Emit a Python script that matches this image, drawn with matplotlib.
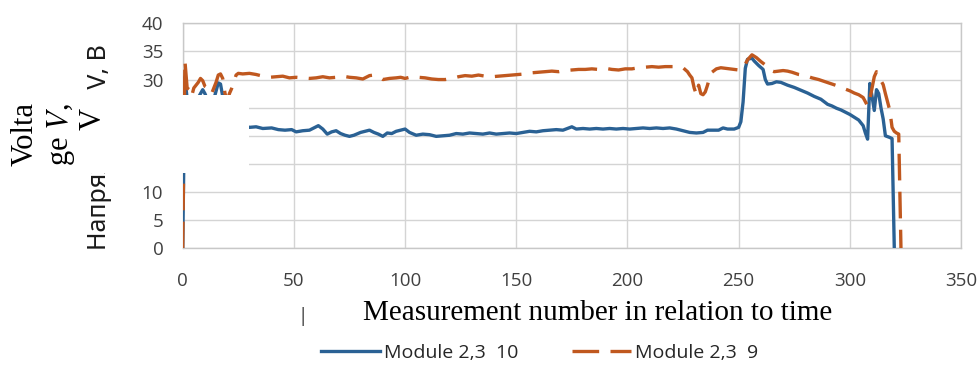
import matplotlib
matplotlib.use("Agg")
import matplotlib.pyplot as plt
from matplotlib.patches import Rectangle

plt.rcParams['mathtext.fontset'] = 'stix'

blue_x = [0, 1, 2, 4, 6, 8, 9, 10, 12, 14, 16, 17, 18, 20, 23, 26, 28, 30, 33, 36,
          40, 43, 46, 49, 51, 54, 57, 59, 61, 63, 65, 67, 69, 71, 73, 75, 77, 80, 82, 84,
          86, 88, 90, 92, 94, 96, 98, 100, 102, 105, 108, 111, 114, 117, 120, 123, 126, 129, 132, 135,
          138, 141, 144, 147, 150, 153, 156, 159, 162, 165, 168, 171, 173, 175, 177, 180, 183, 186, 189, 192,
          195, 198, 201, 204, 207, 210, 213, 216, 219, 222, 225, 228, 231, 234, 236, 239, 241, 243, 245, 248,
          250, 251, 252, 253, 254, 256, 257, 259, 261, 262, 263, 265, 267, 269, 272, 275, 278, 281, 284, 287,
          290, 292, 294, 296, 298, 300, 302, 304, 306, 307, 308, 309, 310, 311, 312, 313, 314, 315, 316, 318,
          319, 320]
blue_y = [0, 30.5, 26.5, 25, 26, 27.5, 28.2, 27.5, 25.5, 26.5, 29.4, 29.2, 27, 25, 24, 22.5, 21.8, 21.5, 21.6, 21.3,
          21.4, 21.1, 21.0, 21.1, 20.7, 20.9, 21.0, 21.4, 21.8, 21.2, 20.3, 20.7, 20.9, 20.4, 20.1, 19.9, 20.1, 20.6, 20.8, 21.0,
          20.6, 20.3, 19.9, 20.5, 20.4, 20.8, 21.0, 21.2, 20.6, 20.1, 20.3, 20.2, 19.9, 20.0, 20.1, 20.4, 20.3, 20.5, 20.4, 20.3,
          20.5, 20.3, 20.4, 20.5, 20.4, 20.6, 20.8, 20.7, 20.9, 21.0, 21.1, 21.0, 21.3, 21.6, 21.2, 21.3, 21.2, 21.3, 21.2, 21.3,
          21.2, 21.3, 21.2, 21.3, 21.4, 21.3, 21.4, 21.3, 21.4, 21.2, 20.9, 20.6, 20.5, 20.6, 21.0, 21.0, 21.0, 21.4, 21.2, 21.2,
          21.5, 22.5, 26, 32, 33.6, 33.8, 33.3, 32.5, 31.8, 30, 29.2, 29.3, 29.6, 29.5, 29.0, 28.6, 28.1, 27.6, 27.0, 26.5,
          25.6, 25.3, 24.9, 24.6, 24.2, 23.8, 23.3, 22.8, 21.8, 20.5, 19.4, 29.3, 27, 24.5, 28.2, 27.5, 25, 23, 20, 19.7,
          19.5, 0]

orange_x = [0, 1, 2, 3, 4, 5, 7, 8, 9, 10, 12, 13, 15, 16, 17, 18, 19, 20, 21, 22,
            23, 24, 25, 27, 30, 33, 36, 39, 42, 45, 48, 51, 54, 57, 60, 63, 66, 69, 72, 75,
            78, 81, 84, 86, 88, 90, 93, 96, 98, 100, 103, 106, 109, 112, 115, 118, 121, 124, 127, 130,
            133, 136, 139, 142, 145, 148, 151, 154, 157, 160, 163, 166, 169, 172, 175, 178, 181, 184, 187, 190,
            193, 196, 199, 202, 205, 208, 211, 214, 217, 220, 223, 225, 227, 228, 229, 230, 231, 232, 233, 234,
            235, 236, 237, 238, 240, 242, 244, 246, 248, 250, 252, 254, 256, 258, 260, 262, 264, 266, 268, 270,
            272, 274, 277, 280, 283, 286, 289, 292, 295, 298, 300, 302, 304, 306, 308, 309, 310, 311, 312, 313,
            314, 315, 316, 317, 318, 319, 320, 321, 322, 323]
orange_y = [0, 33.3, 28.5, 28.2, 27, 28.5, 29.5, 30.2, 29.8, 28.8, 28.3, 27.5, 29.5, 30.8, 31.0, 30.2, 27.6, 26, 27.5, 28.4,
            29.5, 30.8, 31.1, 31.0, 31.1, 30.9, 30.6, 30.4, 30.5, 30.6, 30.3, 30.4, 30.3, 30.2, 30.3, 30.5, 30.3, 30.4, 30.6, 30.4,
            30.3, 30.1, 30.7, 30.8, 30.5, 30.0, 30.2, 30.3, 30.4, 30.2, 30.5, 30.4, 30.3, 30.1, 30.0, 30.0, 30.2, 30.5, 30.7, 30.6,
            30.8, 30.6, 30.5, 30.6, 30.7, 30.8, 30.9, 31.0, 31.2, 31.3, 31.4, 31.5, 31.4, 31.6, 31.7, 31.8, 31.8, 31.9, 31.8, 32.0,
            31.8, 31.7, 31.9, 31.9, 32.1, 32.2, 32.3, 32.2, 32.3, 32.3, 32.3, 32.1, 31.4, 30.8, 30.3, 28.5, 27.3, 29.0, 27.5, 27.3,
            27.8, 29.0, 30.5, 31.3, 31.9, 32.1, 32.0, 31.9, 31.8, 31.7, 32.0, 33.5, 34.4, 33.9, 33.2, 32.6, 31.7, 31.4, 31.5, 31.6,
            31.5, 31.3, 30.9, 30.7, 30.3, 30.0, 29.6, 29.2, 28.8, 28.3, 28.0, 27.6, 27.3, 26.8, 25.3, 26.5, 28.5, 30.5, 31.4, 30.8,
            29.8, 29.1, 27.5, 26, 24.5, 21.5, 20.8, 20.5, 20.3, 0]

labels = ['Module 2,3  10', 'Module 2,3  9']
x_ticks = [0, 50, 100, 150, 200, 250, 300, 350]
y_ticks = [0, 5, 10, 15, 20, 25, 30, 35, 40]

W, H = 979, 365
fig = plt.figure(figsize=(W / 100, H / 100), dpi=100)
ax = fig.add_axes([182.7 / W, 1 - 248.3 / H, (961 - 182.7) / W, (248.3 - 23.3) / H])

blue = '#2a6194'
orange = '#c0581f'
ax.plot(blue_x, blue_y, color=blue, lw=2.4, label=labels[0], zorder=3)
ax.plot(orange_x, orange_y, color=orange, lw=2.4, dashes=(8, 3.4), label=labels[1], zorder=3)

ax.set_xlim(0, 350)
ax.set_ylim(0, 40)
ax.set_xticks(x_ticks)
ax.set_yticks(y_ticks)
ax.grid(True, color='#d4d4d4', lw=1)
ax.set_axisbelow(True)
for s in ax.spines.values():
    s.set_color('#c8c8c8')
    s.set_linewidth(1)
ax.tick_params(length=0, labelsize=13.5, colors='#404040')
ax.tick_params(axis='x', pad=17)
ax.tick_params(axis='y', pad=14)
for t in ax.get_xticklabels() + ax.get_yticklabels():
    t.set_family('Open Sans')

# original y label, partly hidden under the pasted white box
fig.text(100 / W, 1 - 250 / H, 'Напряжение V, B', rotation=90, ha='center', va='bottom',
         fontsize=18, family='Noto Sans', color='#1a1a1a')

fig.add_artist(Rectangle((0, 1 - 173 / H), 249 / W, 78 / H, transform=fig.transFigure,
                         facecolor='white', edgecolor='none', zorder=10))

serif = 'Liberation Serif'
fig.text(33 / W, 1 - 134 / H, 'Volta', rotation=90, rotation_mode='anchor', ha='center',
         va='baseline', fontsize=22, family=serif, zorder=11)
fig.text(68 / W, 1 - 135 / H, 'ge $V$,', rotation=90, rotation_mode='anchor', ha='center',
         va='baseline', fontsize=22, family=serif, zorder=11)
fig.text(101 / W, 1 - 118.5 / H, 'V', rotation=90, rotation_mode='anchor', ha='center',
         va='baseline', fontsize=22, family=serif, zorder=11)

fig.text(598 / W, 1 - 320 / H, 'Measurement number in relation to time', ha='center',
         va='baseline', fontsize=21, family=serif)
fig.text(302 / W, 1 - 317 / H, '|', ha='center', va='center', fontsize=15, family=serif)

leg = fig.legend(loc='center', bbox_to_anchor=(539.5 / W, 1 - 353 / H), ncol=2, frameon=False,
                 handlelength=3.0, handletextpad=0.2, columnspacing=2.8,
                 prop={'family': 'Open Sans', 'size': 14})
for t in leg.get_texts():
    t.set_color('#262626')

fig.savefig('out.png', dpi=100)
